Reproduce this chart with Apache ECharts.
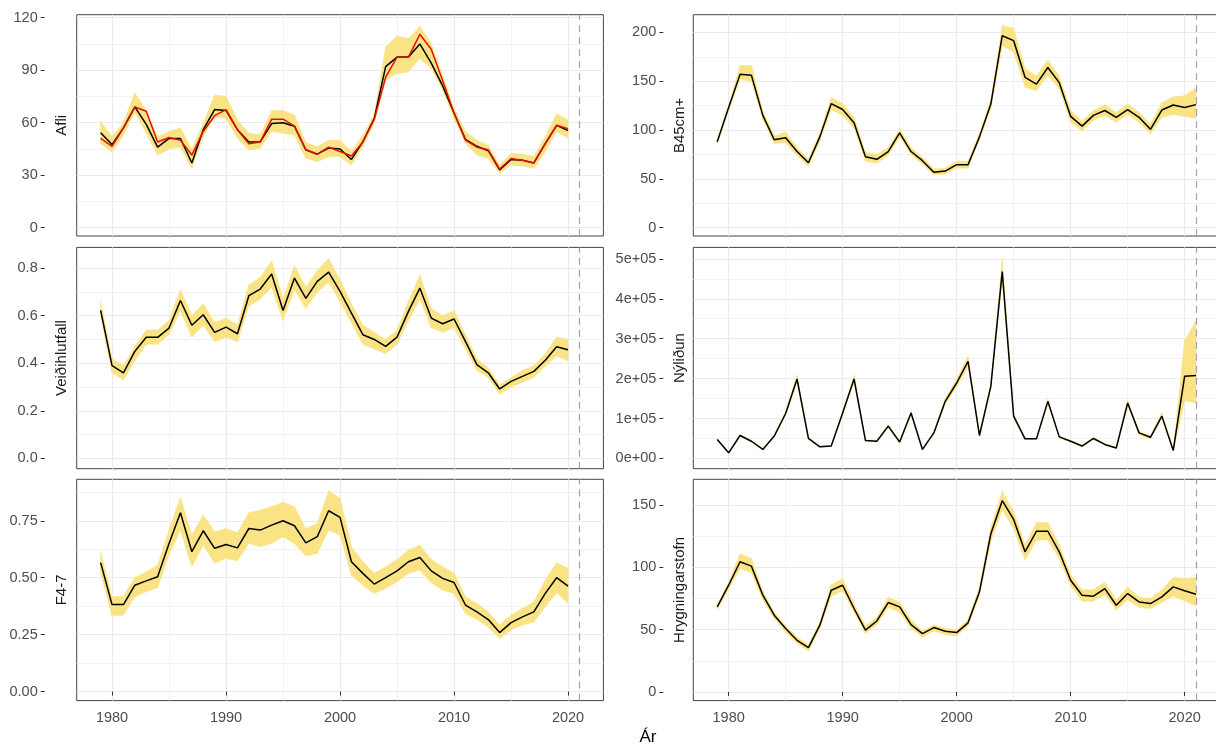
<!DOCTYPE html>
<html><head><meta charset="utf-8">
<script src="https://cdn.jsdelivr.net/npm/echarts@6/dist/echarts.min.js"></script>
<style>html,body{margin:0;padding:0;background:#fff}#c{width:1216px;height:745px}</style>
</head><body><div id="c"></div>
<script>
// ---------------- data ----------------
const years = [1979,1980,1981,1982,1983,1984,1985,1986,1987,1988,1989,1990,1991,1992,1993,1994,1995,1996,1997,1998,1999,2000,2001,2002,2003,2004,2005,2006,2007,2008,2009,2010,2011,2012,2013,2014,2015,2016,2017,2018,2019,2020];
const yearsExt = [1979,1980,1981,1982,1983,1984,1985,1986,1987,1988,1989,1990,1991,1992,1993,1994,1995,1996,1997,1998,1999,2000,2001,2002,2003,2004,2005,2006,2007,2008,2009,2010,2011,2012,2013,2014,2015,2016,2017,2018,2019,2020,2021];
const xTicks = [1980,1990,2000,2010,2020];
const assessmentYear = 2021;

const afliEst = [54.3,47.5,57,69,59,46,51,51,37,56,67.5,67,56,49,49,59.5,60,58,44.5,42,45.5,45,39,49,62.5,92,97.5,97.5,105,94,81,65.5,50.5,46.5,44,33,39,38.5,37,48,58.5,55.5];
const afliObs = [51,46.5,57,69,66.5,49,51.5,50,41.5,55,64,67.5,56,48,49,62,62,58,44.5,42,46,43.5,41,49,62,86,97.5,97.5,110.5,102,84,65.5,50,46,44.5,33.5,39.5,38.5,37,48,58.5,56.5];
const afliLo = [48,43.4,53,66,54,41.5,45,46,34,52,63.4,62.5,51,44.4,45.3,55,54,53,39.6,37.7,40.6,40.6,35.8,46.3,59.6,84.4,88.2,89,96.8,91,78.7,62.5,48.2,41.5,39.6,31,35.8,35.2,34,43.4,55,51];
const afliHi = [60.5,52,60,77,67,52,55,57,44.8,59.6,75.8,75,61.5,54,53,67,67,64.4,48.6,46.3,50,50,43.4,53,64.4,103.4,109.5,108,115,105,87,68,55,50,47,35.8,42.5,42,40.6,52,65,61.5];
const afliTicks = [0,30,60,90,120];

const b45Est = [88,123,157,156,115,90,92,78,66.5,93,127,121,107.5,72.7,70,78,97,78,68.6,56.7,58,64.5,64.5,93,126.6,196.6,191.5,154,147,164,148.5,114,104,115,120,113,121,113,100.7,120.5,125.6,123,126];
const b45Lo = [86,120,152,150,111,86,87,74,63,89,121,115,102,68,66,74,93,75,65,54,55,61,61,90,122,186,180,144,140,156,142,108,99,110,115,108,116,108,96,113,116,114,112];
const b45Hi = [90,125,166,166,119,94,98,82,70,97,133,127,113,77,75,82,101,82,72,60,61,68,68,96,131,207,204,163,155,172,155,120,109,120,126,118,127,118,106,128,134,135,143];
const b45Ticks = [0,50,100,150,200];

const veidiEst = [0.622,0.39,0.36,0.45,0.509,0.509,0.548,0.664,0.56,0.604,0.53,0.552,0.524,0.684,0.712,0.775,0.622,0.758,0.673,0.744,0.783,0.702,0.611,0.52,0.5,0.471,0.51,0.618,0.716,0.59,0.566,0.586,0.492,0.394,0.36,0.292,0.324,0.345,0.366,0.413,0.469,0.457];
const veidiLo = [0.60,0.36,0.33,0.41,0.48,0.48,0.52,0.62,0.51,0.56,0.49,0.51,0.49,0.64,0.67,0.72,0.58,0.71,0.63,0.70,0.74,0.66,0.57,0.48,0.46,0.44,0.48,0.58,0.67,0.55,0.53,0.55,0.46,0.37,0.34,0.27,0.30,0.32,0.34,0.39,0.43,0.41];
const veidiHi = [0.66,0.42,0.39,0.47,0.54,0.54,0.58,0.71,0.60,0.65,0.57,0.59,0.56,0.73,0.76,0.83,0.67,0.81,0.72,0.79,0.84,0.75,0.65,0.56,0.53,0.50,0.54,0.66,0.77,0.63,0.60,0.62,0.52,0.42,0.38,0.31,0.34,0.37,0.39,0.44,0.51,0.50];
const veidiTicks = [0,0.2,0.4,0.6,0.8];

const nyEst = [47500,14000,57500,43000,22500,56000,112500,199000,50000,29000,31000,114000,199000,45000,43000,81000,41000,114000,22500,64000,143000,189000,243000,57500,181000,468000,106000,49000,49000,143000,54000,43000,31000,50000,35000,26000,139000,64000,53000,106000,20000,206000,207500];
const nyLo = [45000,12000,55000,41000,21000,54000,108000,192000,48000,28000,30000,110000,192000,43000,41000,78000,39000,110000,21000,61000,136000,180000,231000,55000,174000,450000,101000,47000,47000,138000,52000,41000,29000,48000,33000,25000,134000,60000,49000,100000,18000,145000,139000];
const nyHi = [50000,16000,60000,45000,24000,58000,118000,208000,52000,30000,33000,119000,208000,47000,45000,85000,43000,119000,24000,67000,151000,199000,256000,60000,189000,497000,111000,51000,51000,149000,56000,45000,33000,52000,37000,27000,145000,68000,57000,114000,22000,295000,345000];
const nyTicks = [0,100000,200000,300000,400000,500000];

const f47Est = [0.566,0.382,0.382,0.467,0.486,0.504,0.65,0.785,0.614,0.706,0.629,0.646,0.631,0.716,0.709,0.731,0.75,0.728,0.653,0.68,0.794,0.765,0.57,0.519,0.472,0.5,0.53,0.57,0.589,0.53,0.497,0.479,0.38,0.35,0.316,0.259,0.303,0.328,0.35,0.431,0.5,0.463];
const f47Lo = [0.519,0.333,0.336,0.416,0.438,0.457,0.6,0.709,0.548,0.643,0.563,0.585,0.574,0.65,0.636,0.65,0.68,0.65,0.595,0.607,0.709,0.687,0.511,0.467,0.431,0.453,0.482,0.519,0.533,0.478,0.445,0.431,0.343,0.316,0.284,0.233,0.27,0.292,0.306,0.372,0.434,0.387];
const f47Hi = [0.614,0.416,0.419,0.501,0.526,0.555,0.709,0.853,0.687,0.775,0.702,0.716,0.697,0.785,0.797,0.812,0.831,0.812,0.716,0.738,0.882,0.848,0.636,0.57,0.519,0.548,0.58,0.621,0.643,0.58,0.548,0.519,0.416,0.387,0.35,0.292,0.336,0.365,0.394,0.489,0.566,0.541];
const f47Ticks = [0,0.25,0.5,0.75];

const hrygEst = [68.3,85.7,104.5,101,77.7,61.6,50.9,41.5,35.6,53.6,81.7,85.7,67,49.6,57,71.8,68.3,54,46.9,51.7,48.8,47.7,55.5,80.4,127,153.5,138.5,112.5,129,129,112.5,89.7,77.7,76.9,83,69.6,79,72.3,71,76.3,84.4,81.2,78.5];
const hrygLo = [66,83,99,96,74,59,48,39,33,51,77,81,64,47,54,68,64,51,44,49,46,45,53,77,121,146,131,106,122,122,107,85,73,73,78,66,74,68,67,72,77,73,69];
const hrygHi = [70,88,111,107,81,64,53,44,38,56,86,91,71,53,60,76,72,58,49,54,51,50,58,84,132,161,145,118,136,136,118,94,82,82,88,74,84,76,75,82,92,91,92];
const hrygTicks = [0,50,100,150];

const labels = ['Afli','B45cm+','Veiðihlutfall','Nýliðun','F4-7','Hrygningarstofn'];
const xTitle = 'Ár';

// ---------------- layout / style ----------------
const FONT = "'Liberation Sans', Arial, Helvetica, sans-serif";
const RIB = '#FAE385';
const colLeft = [76.7, 693.3];
const rowTop = [14.7, 247.4, 479.3];
const PW = 526.7, PH = 221.3;
const yOffset = [32, 30];
const stripX = [61.7, 680];

function sci(v){
  if (v === 0) return '0e+00';
  const s = v.toExponential(0);
  const m = s.split('e');
  let e = parseInt(m[1],10);
  const sign = e < 0 ? '-' : '+';
  e = Math.abs(e);
  return m[0] + 'e' + sign + (e < 10 ? '0' + e : '' + e);
}

const panels = [
  {xs:years,    est:afliEst,  lo:afliLo,  hi:afliHi,  extra:afliObs, min:-4.74,  max:121.7,  iv:30,     ticks:afliTicks,  fmt:v=>String(v)},
  {xs:yearsExt, est:b45Est,   lo:b45Lo,   hi:b45Hi,   min:-8.5,   max:218.1,  iv:50,     ticks:b45Ticks,   fmt:v=>String(v)},
  {xs:years,    est:veidiEst, lo:veidiLo, hi:veidiHi, min:-0.0432,max:0.887,  iv:0.2,    ticks:veidiTicks, fmt:v=>v.toFixed(1)},
  {xs:yearsExt, est:nyEst,    lo:nyLo,    hi:nyHi,    min:-25750, max:528750, iv:100000, ticks:nyTicks,    fmt:sci},
  {xs:years,    est:f47Est,   lo:f47Lo,   hi:f47Hi,   min:-0.0396,max:0.932,  iv:0.25,   ticks:f47Ticks,   fmt:v=>v.toFixed(2)},
  {xs:yearsExt, est:hrygEst,  lo:hrygLo,  hi:hrygHi,  min:-6.9,   max:170.7,  iv:50,     ticks:hrygTicks,  fmt:v=>String(v)}
];

function makeBandRenderer(p){
  return function(params, api){
    const i = params.dataIndex;
    if (i >= p.xs.length - 1) return null;
    const a = api.coord([p.xs[i], p.lo[i]]);
    const b = api.coord([p.xs[i], p.hi[i]]);
    const c = api.coord([p.xs[i+1], p.hi[i+1]]);
    const d = api.coord([p.xs[i+1], p.lo[i+1]]);
    return {type:'polygon', shape:{points:[a,b,c,d]},
      style:{fill: RIB, stroke: RIB, lineWidth: 0.6}};
  };
}

const grid = [], xAxis = [], yAxis = [], series = [], graphic = [];
panels.forEach((p, gi) => {
  const col = gi % 2, row = Math.floor(gi / 2);
  const bottom = row === 2;
  grid.push({left: colLeft[col], top: rowTop[row], width: PW, height: PH,
    show: true, borderColor: '#444444', borderWidth: 1, backgroundColor: 'transparent',
    containLabel: false, outerBoundsMode: 'none'});
  xAxis.push({type:'value', gridIndex: gi, min: 1976.9, max: 2023.1, minInterval: 10, maxInterval: 10,
    axisLine:{show:false},
    axisTick:{show: bottom, length: 4, lineStyle:{color:'#333333', width:1}, customValues: xTicks},
    axisLabel:{show: bottom, customValues: xTicks, formatter: v => String(v), color:'#4D4D4D', fontSize: 14.5, fontFamily: FONT, margin: 10},
    splitLine:{show:true, lineStyle:{color:'#EBEBEB', width:1.2}},
    minorTick:{show:false, splitNumber:2},
    minorSplitLine:{show:true, lineStyle:{color:'#F2F2F2', width:0.9}}
  });
  yAxis.push({type:'value', gridIndex: gi, min: p.min, max: p.max, minInterval: p.iv, maxInterval: p.iv,
    offset: yOffset[col],
    axisLine:{show:false},
    axisTick:{show:true, length:4, lineStyle:{color:'#333333', width:1}, customValues: p.ticks},
    axisLabel:{show:true, customValues: p.ticks, formatter: p.fmt, color:'#4D4D4D', fontSize:14.5, fontFamily: FONT, margin: 7},
    splitLine:{show:true, lineStyle:{color:'#EBEBEB', width:1.2}},
    minorTick:{show:false, splitNumber:2},
    minorSplitLine:{show:true, lineStyle:{color:'#F2F2F2', width:0.9}}
  });
  series.push({type:'custom', xAxisIndex:gi, yAxisIndex:gi, silent:true, z:1,
    dimensions:['x','lo','hi'], encode:{x:0, y:[1,2]},
    data: p.xs.map((x,i)=>[x, p.lo[i], p.hi[i]]),
    renderItem: makeBandRenderer(p)});
  series.push({type:'line', xAxisIndex:gi, yAxisIndex:gi, symbol:'none', silent:true, z:3,
    lineStyle:{color:'#000000', width:1.5},
    data: p.xs.map((x,i)=>[x, p.est[i]]),
    markLine:{silent:true, symbol:['none','none'], label:{show:false},
      lineStyle:{type:[7,5], color:'#A3A3A3', width:1.2}, data:[{xAxis: assessmentYear}]}
  });
  if (p.extra) {
    series.push({type:'line', xAxisIndex:gi, yAxisIndex:gi, symbol:'none', silent:true, z:4,
      lineStyle:{color:'#E3120B', width:1.5}, data: p.xs.map((x,i)=>[x, p.extra[i]])});
  }
  graphic.push({type:'text', x: stripX[col], y: rowTop[row] + PH/2, rotation: Math.PI/2,
    style:{text: labels[gi], fill:'#1A1A1A', font: '15px ' + FONT, align:'center', verticalAlign:'middle'}});
});
graphic.push({type:'text', x: 648, y: 737,
  style:{text: xTitle, fill:'#000000', font: '17px ' + FONT, align:'center', verticalAlign:'middle'}});

const chart = echarts.init(document.getElementById('c'), null, {renderer:'canvas'});
chart.setOption({animation:false, backgroundColor:'#ffffff', grid, xAxis, yAxis, series, graphic});
</script></body></html>
